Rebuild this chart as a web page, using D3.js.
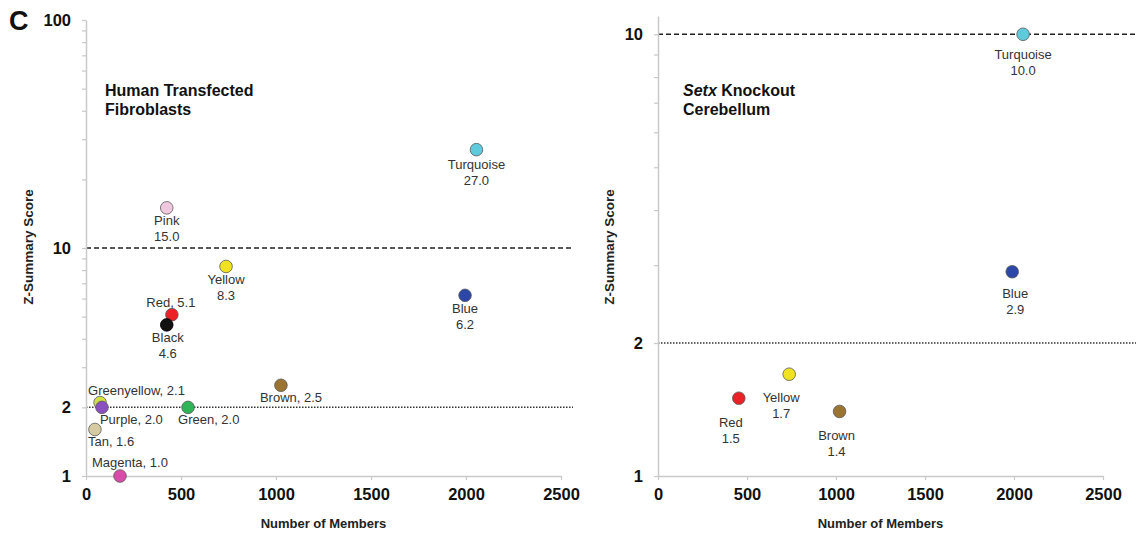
<!DOCTYPE html>
<html>
<head>
<meta charset="utf-8">
<script src="https://cdn.jsdelivr.net/npm/d3@7"></script>
<style>
  html, body { margin: 0; padding: 0; background: #fff; }
  svg { display: block; font-family: "Liberation Sans", Arial, sans-serif; }
</style>
</head>
<body>
<svg id="chart" width="1136" height="534"></svg>
<script>
// ---------- DATA ----------
const leftNames   = ["Turquoise", "Pink", "Yellow", "Blue", "Red", "Black", "Brown", "Greenyellow", "Purple", "Green", "Tan", "Magenta"];
const leftMembers = [2055, 425, 737, 1995, 452, 425, 1026, 74, 84, 537, 47, 179];
const leftScores  = [27.0, 15.0, 8.3, 6.2, 5.1, 4.6, 2.5, 2.1, 2.0, 2.0, 1.6, 1.0];

const rightNames   = ["Turquoise", "Blue", "Yellow", "Red", "Brown"];
const rightMembers = [2051, 1990, 737, 454, 1020];
const rightScores  = [10.0, 2.9, 1.7, 1.5, 1.4];

const xTicks = [0, 500, 1000, 1500, 2000, 2500];
const leftYTicks  = [1, 2, 3, 4, 5, 6, 7, 8, 9, 10, 20, 30, 40, 50, 60, 70, 80, 90, 100];
const leftYLabels = [1, 2, 10, 100];
const rightYTicks  = [1, 2, 3, 4, 5, 6, 7, 8, 9, 10];
const rightYLabels = [1, 2, 10];
const thresholds = [10, 2];

// ---------- STYLE / LAYOUT ----------
const moduleColors = {
  Turquoise: "#5ecadc", Pink: "#efc8dd", Yellow: "#f1e21f", Blue: "#2c47a6",
  Red: "#ea2125", Black: "#111111", Brown: "#9b7431", Greenyellow: "#d0e04c",
  Purple: "#8b4fbf", Green: "#2fb457", Tan: "#d6caa0", Magenta: "#d84ba8"
};
// label layout: [mode, anchor, dx, dy]
const leftLabelLayout = [
  ["stack", "middle", 0, 19], ["stack", "middle", 0, 17], ["stack", "middle", 0, 18],
  ["stack", "middle", 0, 18], ["inline", "middle", -1, -8], ["stack", "middle", 1, 17],
  ["inline", "start", -21, 17], ["inline", "start", -12, -8], ["inline", "start", -2, 17],
  ["inline", "start", -10, 17], ["inline", "start", -7, 17], ["inline", "start", -28, -9]
];
const rightLabelLayout = [
  ["stack", "middle", 0, 25], ["stack", "middle", 3, 26], ["stack", "middle", -8, 28],
  ["stack", "middle", -8, 29], ["stack", "middle", -3, 29]
];

const svg = d3.select("#chart");
const fmt = d3.format(".1f");

// panel letter
svg.append("text").attr("x", 9).attr("y", 30)
  .attr("font-size", 27).attr("font-weight", "bold").attr("fill", "#111").text("C");

function panel(cfg) {
  const x = d3.scaleLinear().domain([0, 2500]).range([cfg.x0, cfg.x1]);
  const y = d3.scaleLog().domain(cfg.yDomain).range([476, cfg.yTop]);
  const g = svg.append("g");

  // threshold lines
  g.append("line").attr("x1", cfg.x0).attr("x2", cfg.lineEnd)
    .attr("y1", y(thresholds[0])).attr("y2", y(thresholds[0]))
    .attr("stroke", "#222").attr("stroke-width", 1.5).attr("stroke-dasharray", "5,3");
  g.append("line").attr("x1", cfg.x0).attr("x2", cfg.lineEnd)
    .attr("y1", y(thresholds[1])).attr("y2", y(thresholds[1]))
    .attr("stroke", "#333").attr("stroke-width", 1.5).attr("stroke-dasharray", "1.5,1.5");

  // axes
  const xAxis = d3.axisBottom(x).tickValues(xTicks).tickSize(4).tickPadding(8).tickSizeOuter(0)
    .tickFormat(d3.format("d"));
  const gx = g.append("g").attr("transform", `translate(0,476)`).call(xAxis);
  const yAxis = d3.axisLeft(y).tickValues(cfg.yTicks).tickSize(4).tickPadding(11).tickSizeOuter(0)
    .tickFormat(d => cfg.yLabels.includes(d) ? d3.format("d")(d) : "");
  const gy = g.append("g").attr("transform", `translate(${cfg.x0},0)`).call(yAxis);
  [gx, gy].forEach(a => {
    a.select(".domain").attr("stroke", "#c9c9c9").attr("stroke-width", 1.5);
    a.selectAll(".tick line").attr("stroke", "#c9c9c9").attr("stroke-width", 1.2);
    a.selectAll(".tick text").attr("font-size", 16.5).attr("font-weight", "bold")
      .attr("fill", "#111").attr("font-family", "Liberation Sans, Arial, sans-serif");
  });

  // axis titles
  g.append("text").attr("x", (cfg.x0 + cfg.x1) / 2).attr("y", 528).attr("text-anchor", "middle")
    .attr("font-size", 13).attr("font-weight", "bold").attr("fill", "#222").text("Number of Members");
  g.append("text").attr("transform", `translate(${cfg.yTitleX},247) rotate(-90)`)
    .attr("text-anchor", "middle").attr("font-size", 13.5).attr("font-weight", "bold")
    .attr("fill", "#222").text("Z-Summary Score");

  // panel title
  const t1 = g.append("text").attr("x", cfg.x0 + cfg.titleDx).attr("y", 96)
    .attr("font-size", 16).attr("font-weight", "bold").attr("fill", "#111");
  cfg.title1.forEach(([s, it]) => t1.append("tspan").attr("font-style", it ? "italic" : "normal").text(s));
  g.append("text").attr("x", cfg.x0 + cfg.titleDx).attr("y", 115)
    .attr("font-size", 16).attr("font-weight", "bold").attr("fill", "#111").text(cfg.title2);

  // points
  const data = cfg.names.map((n, i) => ({ name: n, m: cfg.members[i], s: cfg.scores[i], lay: cfg.layout[i] }));
  g.selectAll("circle.pt").data(data).enter().append("circle")
    .attr("class", "pt")
    .attr("cx", d => x(d.m)).attr("cy", d => y(d.s)).attr("r", 6.3)
    .attr("fill", d => moduleColors[d.name])
    .attr("stroke", d => d.name === "Black" ? "#000" : "#5a5a5a").attr("stroke-width", 0.8);

  // labels
  data.forEach(d => {
    const [mode, anchor, dx, dy] = d.lay;
    const px = x(d.m) + dx, py = y(d.s) + dy;
    const t = g.append("text").attr("x", px).attr("y", py).attr("text-anchor", anchor)
      .attr("font-size", 13).attr("fill", "#333");
    if (mode === "inline") {
      t.text(`${d.name}, ${fmt(d.s)}`);
    } else {
      t.append("tspan").attr("x", px).attr("dy", 0).text(d.name);
      t.append("tspan").attr("x", px).attr("dy", 16).text(fmt(d.s));
    }
  });
}

panel({
  x0: 86, x1: 561, lineEnd: 573, yDomain: [1, 100], yTop: 20,
  yTicks: leftYTicks, yLabels: leftYLabels, yTitleX: 33, titleDx: 19,
  title1: [["Human Transfected", false]], title2: "Fibroblasts",
  names: leftNames, members: leftMembers, scores: leftScores, layout: leftLabelLayout
});
panel({
  x0: 658, x1: 1103, lineEnd: 1136, yDomain: [1, 11], yTop: 16,
  yTicks: rightYTicks, yLabels: rightYLabels, yTitleX: 614, titleDx: 25,
  title1: [["Setx", true], [" Knockout", false]], title2: "Cerebellum",
  names: rightNames, members: rightMembers, scores: rightScores, layout: rightLabelLayout
});
</script>
</body>
</html>
